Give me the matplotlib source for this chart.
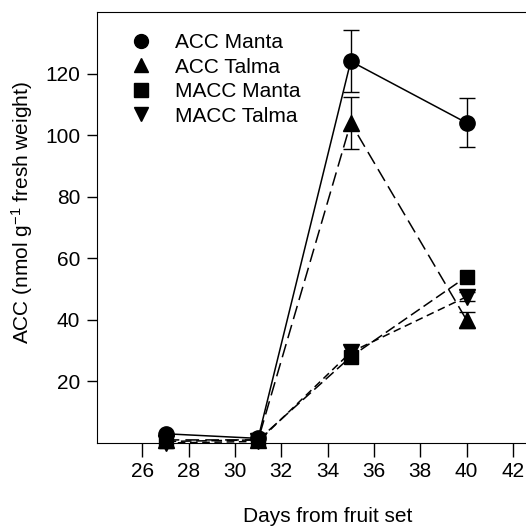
import matplotlib.pyplot as plt
import numpy as np

days = [27, 31, 35, 40]

acc_manta = [3, 1.5, 124, 104]
acc_manta_err = [0, 0, 10, 8]
acc_talma = [1, 1, 104, 40]
acc_talma_err = [0, 0, 8.5, 2.5]
macc_manta = [0.5, 1, 28, 54]
macc_manta_err = [0, 0, 0, 0]
macc_talma = [0, 0.5, 29.5, 47.5]
macc_talma_err = [0, 0, 0, 1.5]

labels = ['ACC Manta', 'ACC Talma', 'MACC Manta', 'MACC Talma']

plt.rcParams['font.family'] = ['Liberation Sans', 'DejaVu Sans']
plt.rcParams['mathtext.fontset'] = 'custom'
plt.rcParams['mathtext.rm'] = 'Liberation Sans'
plt.rcParams['mathtext.default'] = 'regular'

fig = plt.figure(figsize=(5.26, 5.31), dpi=100)
ax = fig.add_axes([97 / 526, 88 / 531, 1 - 97 / 526, (443 - 12) / 531])

series = [
    (acc_manta, acc_manta_err, 'o', '-', 11),
    (acc_talma, acc_talma_err, '^', (0, (9, 4)), 11),
    (macc_manta, macc_manta_err, 's', (0, (7, 3)), 10),
    (macc_talma, macc_talma_err, 'v', (0, (5, 3)), 11),
]

handles = []
for (vals, err, mk, ls, ms), lab in zip(series, labels):
    yerr = np.array(err, dtype=float)
    ax.errorbar(days, vals, yerr=np.where(yerr > 0, yerr, np.nan), color='black',
                marker=mk, markersize=ms, linestyle=ls, linewidth=1.1,
                elinewidth=1.0, capsize=6, capthick=1.0, clip_on=False)
    h, = ax.plot([], [], marker=mk, color='black', markersize=10, linestyle='none')
    handles.append(h)

ax.set_xlim(24.04, 42.57)
ax.set_ylim(0, 140)
ax.set_xticks(np.arange(26, 43, 2))
ax.set_yticks(np.arange(20, 121, 20))
ax.spines['right'].set_visible(False)
ax.tick_params(direction='out', labelsize=15, width=1.0)
ax.tick_params(axis='x', length=10, pad=4)
ax.tick_params(axis='y', length=7, pad=5)

ax.set_xlabel('Days from fruit set', fontsize=15)
ax.set_ylabel('ACC (nmol g$^{-1}$ fresh weight)', fontsize=15)
ax.xaxis.set_label_coords(0.538, -0.148)
ax.yaxis.set_label_coords(-0.145, 0.534)

ax.legend(handles, labels, loc='upper left', frameon=False, fontsize=15,
          handlelength=1.0, handletextpad=1.15, labelspacing=0.26,
          borderaxespad=0, bbox_to_anchor=(0.058, 0.97))

fig.savefig('out.png', dpi=100)
